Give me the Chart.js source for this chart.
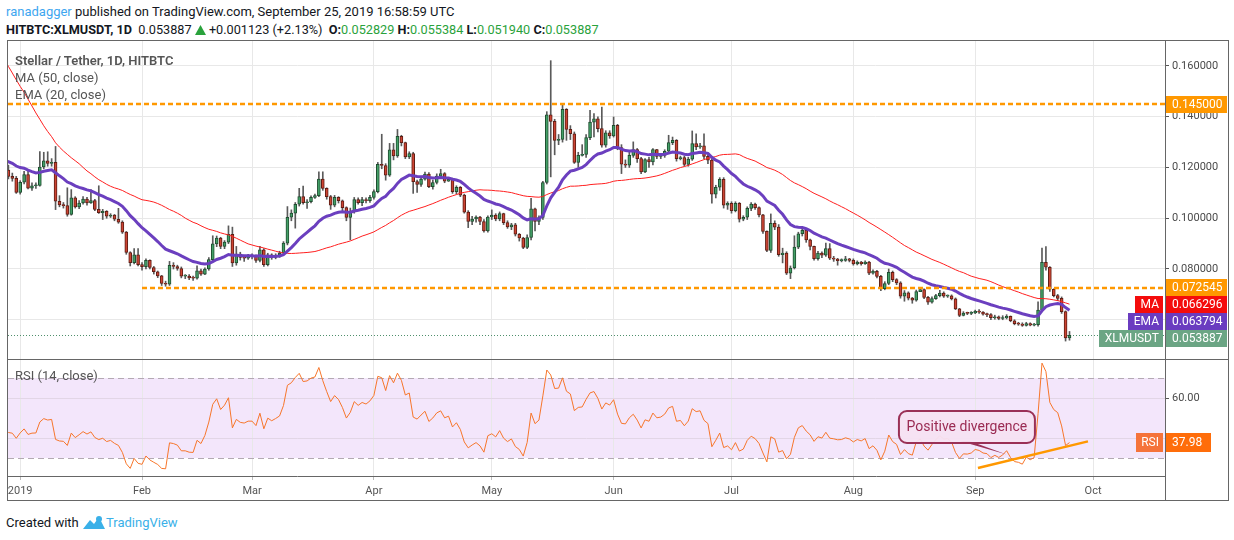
<!DOCTYPE html>
<html>
<head>
<meta charset="utf-8">
<script src="https://cdn.jsdelivr.net/npm/chart.js@4.4.1/dist/chart.umd.min.js"></script>
<style>
  body { margin: 0; width: 1234px; height: 540px; background: #fff; position: relative; overflow: hidden; font-family: Roboto, "Noto Sans", sans-serif; color: #131722; }
  .abs { position: absolute; }
  #h1 { left: 6px; top: 4px; font-size: 13px; white-space: nowrap; }
  #h1 .user { color: #3ea6f0; }
  #h2 { left: 6px; top: 22px; font-size: 12.7px; white-space: nowrap; }
  #h2 .g { color: #2aa23c; }
  .legend { left: 15px; font-size: 13px; color: #555; white-space: nowrap; }
  .hl { background: #666; }
  #credit { left: 6px; top: 514px; font-size: 13px; white-space: nowrap; display: flex; align-items: center; }
  #credit .tv { color: #3ab0e8; }
</style>
</head>
<body>
<div id="h1" class="abs"><span class="user">ranadagger</span> published on TradingView.com, September 25, 2019 16:58:59 UTC</div>
<div id="h2" class="abs"><b>HITBTC:XLMUSDT, 1D</b>&nbsp; 0.053887 <svg width="11" height="10" style="vertical-align:-1px"><polygon points="5.5,0 11,10 0,10" fill="#2aa23c"/></svg> +0.001123 (+2.13%) &nbsp;<b>O:</b><span class="g">0.052829</span> <b>H:</b><span class="g">0.055384</span> <b>L:</b><span class="g">0.051940</span> <b>C:</b><span class="g">0.053887</span></div>

<canvas id="priceChart" class="abs" width="1228" height="318" style="left:0;top:41px"></canvas>
<canvas id="rsiChart" class="abs" width="1228" height="140" style="left:0;top:360px"></canvas>

<div class="abs legend" style="top:53px;font-weight:600">Stellar / Tether, 1D, HITBTC</div>
<div class="abs legend" style="top:70px">MA (50, close)</div>
<div class="abs legend" style="top:87px">EMA (20, close)</div>
<div class="abs legend" style="top:368px">RSI (14, close)</div>

<!-- frame -->
<div class="abs hl" style="left:7px;top:40px;width:1222px;height:1px"></div>
<div class="abs hl" style="left:7px;top:500px;width:1222px;height:1px"></div>
<div class="abs hl" style="left:7px;top:40px;width:1px;height:461px"></div>
<div class="abs hl" style="left:1228px;top:40px;width:1px;height:461px"></div>
<div class="abs hl" style="left:7px;top:359px;width:1222px;height:1px"></div>
<div class="abs hl" style="left:1165px;top:476px;width:1px;height:25px"></div>

<div id="credit" class="abs">Created with&nbsp;<svg width="24" height="16" viewBox="0 0 24 16"><path d="M1 15 L8 6 L12 10 L17 3 L23 15 Z" fill="#3ab0e8"/><circle cx="17" cy="5" r="3" fill="#3ab0e8"/></svg><span class="tv">TradingView</span></div>

<script>
Chart.defaults.font.family = 'Roboto, "Noto Sans", sans-serif';

// month ticks (days since 2019-01-01)
const monthDays = [0, 31, 59, 90, 120, 151, 181, 212, 243, 273];
const monthLabels = ['2019', 'Feb', 'Mar', 'Apr', 'May', 'Jun', 'Jul', 'Aug', 'Sep', 'Oct'];
const priceTicks = [0.06, 0.08, 0.10, 0.12, 0.14, 0.16];
const rsiTicks = [40, 60];

// closes before the visible range (2018-11-09 .. 2018-12-28), only used to warm up MA/EMA/RSI
const priorCloses = [
  0.262, 0.245, 0.246, 0.242, 0.235, 0.246,
  0.248, 0.250, 0.245, 0.250, 0.236, 0.222, 0.228,
  0.190, 0.182, 0.168, 0.174, 0.163, 0.166, 0.180, 0.175,
  0.162,
  0.166, 0.158, 0.146, 0.148, 0.140, 0.130,
  0.122, 0.123, 0.127, 0.121, 0.117, 0.121, 0.114,
  0.096, 0.095, 0.098, 0.106, 0.109, 0.115, 0.124, 0.114, 0.119, 0.121,
  0.131, 0.118, 0.117, 0.107, 0.119
];

// visible daily candles, 2018-12-29 (day -3) .. 2019-09-25 (day 267)
const firstDay = -3;
const closes = [
  0.1165, 0.1157, 0.1102,
  0.1142, 0.1172, 0.1119, 0.1128, 0.1129, 0.1202, 0.1226, 0.1216, 0.1220, 0.1067,
  0.1053, 0.1050, 0.1015, 0.1080, 0.1045, 0.1060, 0.1076, 0.1060, 0.1070, 0.1035,
  0.1022, 0.1027, 0.1008, 0.1012, 0.0996, 0.0985, 0.0945, 0.0865, 0.0825, 0.0856,
  0.0817, 0.0809, 0.0834, 0.0806, 0.0789, 0.0773, 0.0743, 0.0740, 0.0814, 0.0810,
  0.0802, 0.0772, 0.0772, 0.0765, 0.0764, 0.0793, 0.0780, 0.0800, 0.0837, 0.0899,
  0.0922, 0.0889, 0.0906, 0.0937, 0.0824, 0.0859, 0.0846, 0.0843, 0.0850, 0.0850,
  0.0834, 0.0876, 0.0817, 0.0856, 0.0846, 0.0854, 0.0863, 0.0902, 0.1004, 0.1020,
  0.1055, 0.1085, 0.1061, 0.1065, 0.1082, 0.1089, 0.1154, 0.1118, 0.1085, 0.1052,
  0.1082, 0.1069, 0.1042, 0.1003, 0.1026, 0.1074, 0.1061, 0.1074, 0.1069, 0.1082,
  0.1105, 0.1212, 0.1208, 0.1170, 0.1270, 0.1246, 0.1323, 0.1298, 0.1242, 0.1255,
  0.1144, 0.1133, 0.1154, 0.1174, 0.1124, 0.1141, 0.1166, 0.1176, 0.1146, 0.1153,
  0.1105, 0.1122, 0.1091, 0.1024, 0.0987, 0.0997, 0.1005, 0.0987, 0.0950, 0.1005,
  0.1012, 0.0997, 0.1018, 0.0983, 0.0966, 0.0974, 0.0937, 0.0922, 0.0885, 0.0924,
  0.1037, 0.0987, 0.1003, 0.1141, 0.1408, 0.1382, 0.1307, 0.1311, 0.1429, 0.1350,
  0.1333, 0.1220, 0.1248, 0.1252, 0.1318, 0.1379, 0.1392, 0.1353, 0.1288, 0.1337,
  0.1324, 0.1366, 0.1278, 0.1213, 0.1209, 0.1248, 0.1271, 0.1235, 0.1183, 0.1231,
  0.1222, 0.1271, 0.1244, 0.1248, 0.1264, 0.1298, 0.1307, 0.1235, 0.1239, 0.1212,
  0.1233, 0.1294, 0.1281, 0.1285, 0.1244, 0.1229, 0.1095, 0.1122, 0.1153, 0.1052,
  0.1059, 0.1030, 0.1059, 0.0996, 0.1004, 0.1039, 0.1056, 0.1042, 0.1013, 0.0948,
  0.0873, 0.0980, 0.0965, 0.0856, 0.0863, 0.0784, 0.0804, 0.0886, 0.0939, 0.0952,
  0.0915, 0.0889, 0.0841, 0.0863, 0.0854, 0.0880, 0.0843, 0.0839, 0.0833, 0.0834,
  0.0840, 0.0834, 0.0820, 0.0827, 0.0821, 0.0827, 0.0784, 0.0791, 0.0771, 0.0722,
  0.0743, 0.0787, 0.0758, 0.0745, 0.0693, 0.0706, 0.0685, 0.0677, 0.0711, 0.0719,
  0.0688, 0.0669, 0.0683, 0.0695, 0.0705, 0.0693, 0.0694, 0.0682, 0.0643, 0.0617,
  0.0626, 0.0625, 0.0627, 0.0633, 0.0630, 0.0622, 0.0620, 0.0608, 0.0611, 0.0605,
  0.0608, 0.0613, 0.0596, 0.0585, 0.0583, 0.0578, 0.0585, 0.0579, 0.0581, 0.0638,
  0.0826, 0.0807, 0.0720, 0.0695, 0.0684, 0.0632, 0.052829, 0.053887
];
const highs = [
  0.1210, 0.1178, 0.1165,
  0.1148, 0.1185, 0.1185, 0.1140, 0.1140, 0.1263, 0.1260, 0.1262, 0.1235, 0.1283,
  0.1089, 0.1062, 0.1120, 0.1113, 0.1085, 0.1070, 0.1085, 0.1082, 0.1113, 0.1075,
  0.1128, 0.1035, 0.1030, 0.1018, 0.1015, 0.1039, 0.0990, 0.0948, 0.0868, 0.0880,
  0.0880, 0.0825, 0.0840, 0.0836, 0.0810, 0.0792, 0.0775, 0.0752, 0.0830, 0.0825,
  0.0815, 0.0808, 0.0778, 0.0778, 0.0772, 0.0812, 0.0800, 0.0805, 0.0845, 0.0931,
  0.0930, 0.0925, 0.0912, 0.0970, 0.0965, 0.0889, 0.0866, 0.0852, 0.0858, 0.0860,
  0.0856, 0.0889, 0.0880, 0.0862, 0.0860, 0.0860, 0.0870, 0.0908, 0.1046, 0.1033,
  0.1062, 0.1118, 0.1127, 0.1074, 0.1088, 0.1095, 0.1183, 0.1183, 0.1120, 0.1090,
  0.1090, 0.1085, 0.1072, 0.1045, 0.1040, 0.1082, 0.1080, 0.1082, 0.1080, 0.1090,
  0.1112, 0.1220, 0.1331, 0.1215, 0.1295, 0.1295, 0.1350, 0.1327, 0.1300, 0.1262,
  0.1260, 0.1150, 0.1165, 0.1182, 0.1180, 0.1150, 0.1175, 0.1193, 0.1180, 0.1160,
  0.1158, 0.1128, 0.1125, 0.1095, 0.1030, 0.1008, 0.1010, 0.1008, 0.0995, 0.1010,
  0.1033, 0.1018, 0.1025, 0.1020, 0.0990, 0.0980, 0.0980, 0.0940, 0.0925, 0.0935,
  0.1078, 0.1040, 0.1010, 0.1145, 0.1420, 0.1621, 0.1390, 0.1330, 0.1451, 0.1432,
  0.1365, 0.1340, 0.1260, 0.1290, 0.1330, 0.1425, 0.1412, 0.1400, 0.1438, 0.1345,
  0.1345, 0.1399, 0.1370, 0.1290, 0.1230, 0.1260, 0.1301, 0.1275, 0.1240, 0.1235,
  0.1240, 0.1275, 0.1272, 0.1255, 0.1270, 0.1327, 0.1320, 0.1310, 0.1245, 0.1245,
  0.1240, 0.1344, 0.1333, 0.1295, 0.1333, 0.1250, 0.1235, 0.1130, 0.1160, 0.1160,
  0.1065, 0.1065, 0.1065, 0.1062, 0.1010, 0.1045, 0.1062, 0.1060, 0.1045, 0.1015,
  0.0950, 0.1017, 0.0990, 0.0975, 0.0882, 0.0868, 0.0812, 0.0931, 0.0945, 0.0965,
  0.0955, 0.0918, 0.0890, 0.0870, 0.0868, 0.0902, 0.0900, 0.0850, 0.0842, 0.0840,
  0.0850, 0.0842, 0.0840, 0.0832, 0.0830, 0.0832, 0.0830, 0.0797, 0.0795, 0.0775,
  0.0750, 0.0800, 0.0792, 0.0762, 0.0750, 0.0715, 0.0710, 0.0688, 0.0717, 0.0725,
  0.0722, 0.0692, 0.0690, 0.0700, 0.0716, 0.0710, 0.0698, 0.0698, 0.0686, 0.0645,
  0.0632, 0.0630, 0.0632, 0.0638, 0.0640, 0.0632, 0.0626, 0.0624, 0.0618, 0.0615,
  0.0616, 0.0620, 0.0615, 0.0600, 0.0590, 0.0588, 0.0590, 0.0588, 0.0586, 0.0671,
  0.0882, 0.0888, 0.0810, 0.0722, 0.0700, 0.0690, 0.0635, 0.055384
];
const lows = [
  0.1155, 0.1146, 0.1098,
  0.1095, 0.1135, 0.1116, 0.1110, 0.1118, 0.1126, 0.1195, 0.1205, 0.1205, 0.1034,
  0.1045, 0.1040, 0.1008, 0.1012, 0.1040, 0.1038, 0.1055, 0.1052, 0.1058, 0.1030,
  0.1019, 0.0995, 0.1000, 0.1003, 0.0990, 0.0980, 0.0940, 0.0858, 0.0812, 0.0820,
  0.0812, 0.0795, 0.0800, 0.0800, 0.0780, 0.0766, 0.0735, 0.0732, 0.0735, 0.0800,
  0.0795, 0.0765, 0.0762, 0.0758, 0.0755, 0.0760, 0.0775, 0.0778, 0.0795, 0.0830,
  0.0888, 0.0880, 0.0880, 0.0900, 0.0810, 0.0815, 0.0835, 0.0830, 0.0838, 0.0840,
  0.0826, 0.0828, 0.0810, 0.0812, 0.0838, 0.0840, 0.0846, 0.0858, 0.0895, 0.0990,
  0.0961, 0.1048, 0.1055, 0.1039, 0.1060, 0.1078, 0.1085, 0.1110, 0.1075, 0.1035,
  0.1045, 0.1060, 0.1030, 0.0990, 0.0915, 0.1020, 0.1055, 0.1050, 0.1060, 0.1062,
  0.1075, 0.1100, 0.1195, 0.1150, 0.1165, 0.1230, 0.1240, 0.1285, 0.1235, 0.1235,
  0.1098, 0.1102, 0.1125, 0.1150, 0.1120, 0.1115, 0.1135, 0.1162, 0.1140, 0.1145,
  0.1098, 0.1095, 0.1085, 0.1020, 0.0963, 0.0975, 0.0985, 0.0975, 0.0945, 0.0945,
  0.0995, 0.0990, 0.0990, 0.0975, 0.0960, 0.0955, 0.0930, 0.0910, 0.0880, 0.0880,
  0.0915, 0.0950, 0.0975, 0.0995, 0.1135, 0.1163, 0.1250, 0.1290, 0.1300, 0.1307,
  0.1310, 0.1216, 0.1200, 0.1245, 0.1240, 0.1310, 0.1320, 0.1340, 0.1280, 0.1280,
  0.1315, 0.1320, 0.1270, 0.1176, 0.1200, 0.1200, 0.1240, 0.1220, 0.1176, 0.1180,
  0.1200, 0.1210, 0.1235, 0.1235, 0.1240, 0.1260, 0.1290, 0.1225, 0.1230, 0.1205,
  0.1205, 0.1228, 0.1270, 0.1275, 0.1235, 0.1215, 0.1059, 0.1080, 0.1110, 0.1040,
  0.1035, 0.1020, 0.1025, 0.0985, 0.0990, 0.0995, 0.1030, 0.1035, 0.1005, 0.0940,
  0.0868, 0.0865, 0.0955, 0.0850, 0.0824, 0.0778, 0.0762, 0.0800, 0.0880, 0.0930,
  0.0905, 0.0875, 0.0835, 0.0835, 0.0845, 0.0850, 0.0837, 0.0830, 0.0815, 0.0828,
  0.0830, 0.0828, 0.0815, 0.0816, 0.0815, 0.0818, 0.0778, 0.0780, 0.0765, 0.0715,
  0.0718, 0.0738, 0.0750, 0.0738, 0.0685, 0.0673, 0.0678, 0.0665, 0.0673, 0.0712,
  0.0683, 0.0660, 0.0665, 0.0680, 0.0690, 0.0688, 0.0688, 0.0678, 0.0640, 0.0612,
  0.0615, 0.0620, 0.0620, 0.0624, 0.0625, 0.0618, 0.0612, 0.0600, 0.0602, 0.0600,
  0.0600, 0.0603, 0.0592, 0.0580, 0.0578, 0.0574, 0.0575, 0.0576, 0.0576, 0.0575,
  0.0632, 0.0795, 0.0712, 0.0690, 0.0675, 0.0625, 0.0516, 0.051940
];

// horizontal levels drawn on the chart, and the values printed on the axis tags
const levelPrices = [0.145, 0.072545];
const levelFromDay = [null, 31];
const maLast = 0.066296, emaLast = 0.063794, rsiLast = 37.98;

// axis windows
const xMin = -3.1, xMax = 291.3;
const yMin = 0.04453, yMax = 0.16985;
const rsiMin = 21, rsiMax = 79;

// ---- indicators ----
function sma(src, n) {
  return src.map((v, i) => {
    if (i < n - 1) return null;
    let s = 0;
    for (let k = i - n + 1; k <= i; k++) s += src[k];
    return s / n;
  });
}
function ema(src, n) {
  const a = 2 / (n + 1);
  let prev = null;
  return src.map((v, i) => {
    if (i < n - 1) return null;
    if (prev === null) {
      let s = 0;
      for (let k = 0; k < n; k++) s += src[k];
      prev = s / n;
    } else prev = a * v + (1 - a) * prev;
    return prev;
  });
}
function rsi(src, n) {
  const out = src.map(() => null);
  let g = 0, l = 0;
  for (let i = 1; i <= n; i++) {
    const d = src[i] - src[i - 1];
    if (d > 0) g += d; else l -= d;
  }
  g /= n; l /= n;
  out[n] = 100 - 100 / (1 + g / l);
  for (let i = n + 1; i < src.length; i++) {
    const d = src[i] - src[i - 1];
    g = (g * (n - 1) + Math.max(d, 0)) / n;
    l = (l * (n - 1) + Math.max(-d, 0)) / n;
    out[i] = l === 0 ? 100 : 100 - 100 / (1 + g / l);
  }
  return out;
}

const allCloses = priorCloses.concat(closes);
const dayOfAll = k => firstDay - priorCloses.length + k;
const toPts = arr => arr.map((v, k) => ({ x: dayOfAll(k), y: v })).filter(p => p.y !== null);

const maPts = toPts(sma(allCloses, 50));
const emaPts = toPts(ema(allCloses, 20));
const rsiPts = toPts(rsi(allCloses, 14));

// candles: open is the previous day's close
const wickPts = [], bodyPts = [], bodyFill = [], bodyLine = [];
closes.forEach((c, i) => {
  const o = allCloses[priorCloses.length + i - 1];
  const day = firstDay + i;
  wickPts.push({ x: day, y: [lows[i], highs[i]] });
  bodyPts.push({ x: day, y: [Math.min(o, c), Math.max(o, c)] });
  bodyFill.push(c >= o ? '#43a067' : '#cc4433');
  bodyLine.push(c >= o ? '#1f4d30' : '#5e1d14');
});

// ---- helpers ----
function hline(ctx, x1, x2, y) { ctx.beginPath(); ctx.moveTo(x1, y); ctx.lineTo(x2, y); ctx.stroke(); }

function axisTag(ctx, yc, value, bg, tag, tagBg, boxW, h = 17) {
  const left = 1165, top = Math.round(yc - h / 2);
  ctx.font = '12px Roboto, "Noto Sans", sans-serif';
  ctx.textBaseline = 'middle';
  ctx.fillStyle = bg;
  ctx.fillRect(left + 1, top, boxW, h);
  ctx.fillStyle = '#fff';
  ctx.textAlign = 'left';
  ctx.fillText(value, left + 7, top + h / 2 + 0.5);
  if (tag) {
    const w = Math.ceil(ctx.measureText(tag).width) + 9;
    ctx.fillStyle = tagBg || bg;
    ctx.fillRect(left - 2 - w, top, w, h);
    ctx.fillStyle = '#fff';
    ctx.textAlign = 'right';
    ctx.fillText(tag, left - 6, top + h / 2 + 0.5);
  }
}

// chart areas must line up with the frame exactly, so drop the label overhang padding
const noPadY = s => { s.width = 63; s.paddingTop = 0; s.paddingBottom = 0; };

const xGrid = {
  type: 'linear', min: xMin, max: xMax, offset: false,
  afterBuildTicks: s => { s.ticks = monthDays.map(v => ({ value: v })); }
};

// ---- price pane ----
const priceOverlay = {
  id: 'priceOverlay',
  beforeDatasetsDraw(chart) {
    const { ctx, chartArea: a, scales: { y } } = chart;
    ctx.save();
    ctx.strokeStyle = '#4f8f6c';
    ctx.lineWidth = 1;
    ctx.setLineDash([1, 2]);
    hline(ctx, a.left, a.right, Math.round(y.getPixelForValue(closes[closes.length - 1])) + 0.5);
    ctx.restore();
  },
  afterDatasetsDraw(chart) {
    const { ctx, chartArea: a, scales: { x, y } } = chart;
    ctx.save();
    ctx.beginPath(); ctx.rect(a.left, a.top, a.right - a.left, a.bottom - a.top); ctx.clip();
    ctx.strokeStyle = '#ff9800';
    ctx.lineWidth = 2.5;
    ctx.setLineDash([5, 3]);
    levelPrices.forEach((p, i) => {
      const x1 = levelFromDay[i] === null ? a.left : x.getPixelForValue(levelFromDay[i]);
      hline(ctx, x1, a.right, y.getPixelForValue(p));
    });
    ctx.restore();
  },
  afterDraw(chart) {
    const { ctx, scales: { y } } = chart;
    const tags = [
      { v: levelPrices[0], t: levelPrices[0].toFixed(6), bg: '#ff9800' },
      { v: levelPrices[1], t: levelPrices[1].toFixed(6), bg: '#ff9800' },
      { v: maLast, t: maLast.toFixed(6), bg: '#f40c0c', tag: 'MA' },
      { v: emaLast, t: emaLast.toFixed(6), bg: '#6a3cc0', tag: 'EMA' },
      { v: closes[closes.length - 1], t: closes[closes.length - 1].toFixed(6), bg: '#6ba584', tag: 'XLMUSDT' }
    ].map(o => ({ ...o, py: y.getPixelForValue(o.v) })).sort((p, q) => p.py - q.py);
    // push overlapping tags down like TradingView does
    for (let i = 1; i < tags.length; i++) tags[i].py = Math.max(tags[i].py, tags[i - 1].py + 17);
    ctx.save();
    tags.forEach(o => axisTag(ctx, o.py, o.t, o.bg, o.tag, o.bg, 61));
    ctx.restore();
  }
};

new Chart(document.getElementById('priceChart'), {
  type: 'bar',
  data: {
    datasets: [
      { type: 'line', data: emaPts, borderColor: '#6b3fbf', borderWidth: 3, pointRadius: 0, tension: 0, order: 0 },
      { type: 'line', data: maPts, borderColor: '#ff1f1f', borderWidth: 1, pointRadius: 0, tension: 0, order: 0 },
      { data: bodyPts, backgroundColor: bodyFill, borderColor: bodyLine, borderWidth: 1, borderSkipped: false,
        barThickness: 3, minBarLength: 1, grouped: false, order: 1 },
      { data: wickPts, backgroundColor: '#5a5a5a', borderWidth: 0, barThickness: 1, grouped: false, order: 2 }
    ]
  },
  options: {
    responsive: false, animation: false, events: [], devicePixelRatio: 1,
    layout: { padding: { left: 8, top: 0, right: 0, bottom: 0 } },
    plugins: { legend: { display: false }, tooltip: { enabled: false } },
    scales: {
      x: { ...xGrid, ticks: { display: false }, grid: { color: '#e8e8e8', drawTicks: false, offset: false },
           border: { display: false },
           afterFit: s => { s.height = 0; s.paddingLeft = 0; s.paddingRight = 0; } },
      y: {
        position: 'right', min: yMin, max: yMax,
        afterBuildTicks: s => { s.ticks = priceTicks.map(v => ({ value: v })); },
        ticks: { callback: v => v.toFixed(6), color: '#4a4a4a', font: { size: 11 }, padding: 3 },
        grid: { color: '#e8e8e8', tickColor: '#555', tickLength: 4 },
        border: { color: '#666' },
        afterFit: noPadY
      }
    }
  },
  plugins: [priceOverlay]
});

// ---- RSI pane ----
const divergence = { from: [243.7, 25], to: [271.7, 38.3] };
const note = { text: 'Positive divergence', left: 223.6, right: 258.2, top: 53.5, bottom: 37.5,
               base: [239.1, 241.6], tip: [251.0, 31.8] };

const rsiOverlay = {
  id: 'rsiOverlay',
  beforeDraw(chart) {
    const { ctx, chartArea: a, scales: { y } } = chart;
    ctx.save();
    ctx.fillStyle = '#f3e6fb';
    const t = y.getPixelForValue(70), b = y.getPixelForValue(30);
    ctx.fillRect(a.left, t, a.right - a.left, b - t);
    ctx.restore();
  },
  beforeDatasetsDraw(chart) {
    const { ctx, chartArea: a, scales: { y } } = chart;
    ctx.save();
    ctx.strokeStyle = '#b3a9b3';
    ctx.lineWidth = 1;
    ctx.setLineDash([6, 4]);
    [70, 30].forEach(v => hline(ctx, a.left, a.right, Math.round(y.getPixelForValue(v)) + 0.5));
    ctx.restore();
  },
  afterDatasetsDraw(chart) {
    const { ctx, scales: { x, y } } = chart;
    const px = p => [x.getPixelForValue(p[0]), y.getPixelForValue(p[1])];
    ctx.save();
    // trend line
    const [x1, y1] = px(divergence.from), [x2, y2] = px(divergence.to);
    ctx.strokeStyle = '#ff9800';
    ctx.lineWidth = 2.5;
    ctx.beginPath(); ctx.moveTo(x1, y1); ctx.lineTo(x2, y2); ctx.stroke();
    // callout
    const L = x.getPixelForValue(note.left), R = x.getPixelForValue(note.right);
    const T = y.getPixelForValue(note.top), B = y.getPixelForValue(note.bottom);
    const [tx, ty] = px(note.tip);
    ctx.fillStyle = '#9a3056';
    ctx.beginPath();
    ctx.moveTo(x.getPixelForValue(note.base[0]), B - 2);
    ctx.lineTo(x.getPixelForValue(note.base[1]), B - 2);
    ctx.lineTo(tx, ty);
    ctx.closePath(); ctx.fill();
    ctx.beginPath();
    ctx.roundRect(L, T, R - L, B - T, 8);
    ctx.fillStyle = 'rgba(246,226,242,0.95)';
    ctx.fill();
    ctx.strokeStyle = '#9a3056';
    ctx.lineWidth = 2;
    ctx.stroke();
    ctx.fillStyle = '#9a2a52';
    ctx.font = '14px Roboto, "Noto Sans", sans-serif';
    ctx.textAlign = 'center';
    ctx.textBaseline = 'middle';
    ctx.fillText(note.text, (L + R) / 2, (T + B) / 2);
    ctx.restore();
  },
  afterDraw(chart) {
    const { ctx, scales: { y } } = chart;
    ctx.save();
    axisTag(ctx, y.getPixelForValue(rsiLast), rsiLast.toFixed(2), '#ff6d0a', 'RSI', '#f5733a', 45, 19);
    ctx.restore();
  }
};

new Chart(document.getElementById('rsiChart'), {
  type: 'line',
  data: { datasets: [{ data: rsiPts, borderColor: '#f7762b', borderWidth: 1, pointRadius: 0, tension: 0 }] },
  options: {
    responsive: false, animation: false, events: [], devicePixelRatio: 1,
    layout: { padding: { left: 8, top: 0, right: 0, bottom: 0 } },
    plugins: { legend: { display: false }, tooltip: { enabled: false } },
    scales: {
      x: {
        ...xGrid,
        ticks: { callback: v => monthLabels[monthDays.indexOf(v)], autoSkip: false, maxRotation: 0,
                 color: '#555', font: { size: 11 }, padding: 5 },
        grid: { color: '#e8e8e8', tickColor: '#bbb', tickLength: 4 },
        border: { color: '#666' },
        afterFit: s => { s.height = 24; s.paddingLeft = 0; s.paddingRight = 0; }
      },
      y: {
        position: 'right', min: rsiMin, max: rsiMax,
        afterBuildTicks: s => { s.ticks = rsiTicks.map(v => ({ value: v })); },
        ticks: { callback: v => v.toFixed(2), color: '#4a4a4a', font: { size: 11 }, padding: 3 },
        grid: { color: '#e2d6e6', tickColor: '#555', tickLength: 4 },
        border: { color: '#666' },
        afterFit: noPadY
      }
    }
  },
  plugins: [rsiOverlay]
});
</script>
</body>
</html>
